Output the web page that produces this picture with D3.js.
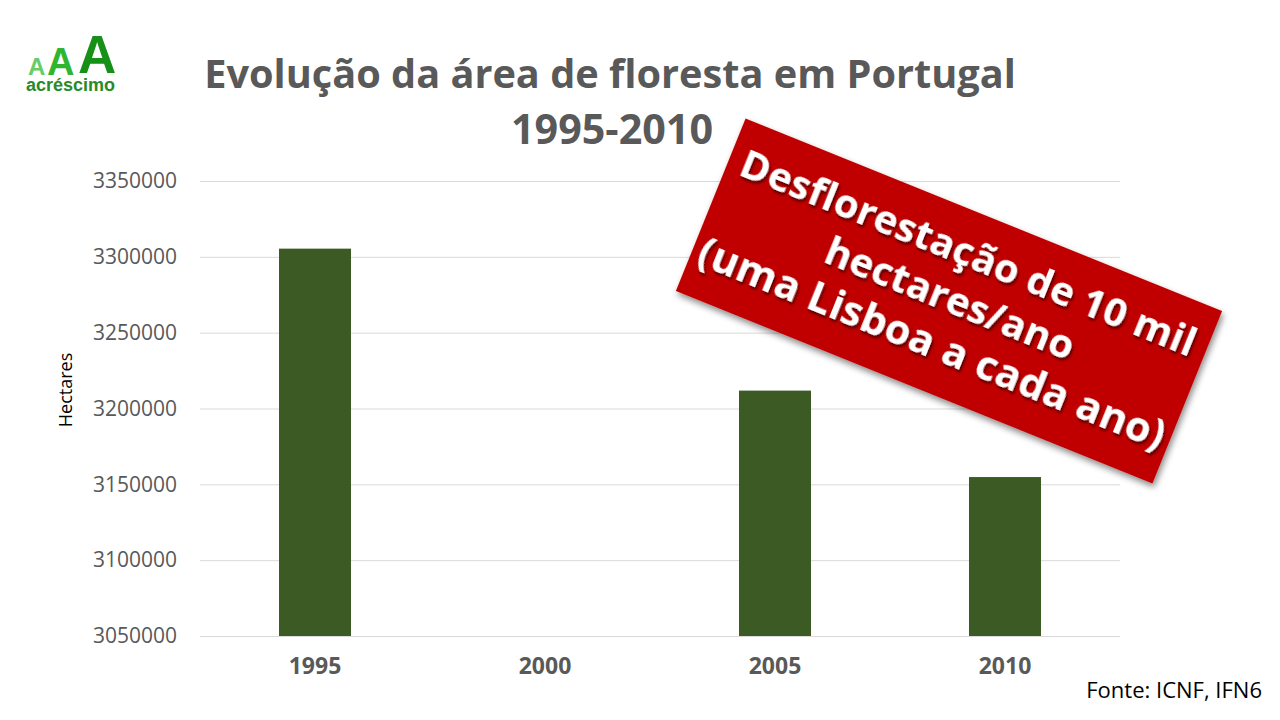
<!DOCTYPE html>
<html><head><meta charset="utf-8">
<script src="https://cdn.jsdelivr.net/npm/d3@7"></script>
<style>body{margin:0;background:#fff}svg{display:block}</style>
</head><body>
<svg id="c" width="1280" height="720"></svg>
<script>
const categories = ["1995", "2000", "2005", "2010"];
const values = [3305400, null, 3211800, 3154800];
const yTicks = [3050000, 3100000, 3150000, 3200000, 3250000, 3300000, 3350000];
const titleLines = ["Evolução da área de floresta em Portugal", "1995-2010"];
const bannerLines = ["Desflorestação de 10 mil", "hectares/ano", "(uma Lisboa a cada ano)"];
const yLabel = "Hectares";
const source = "Fonte: ICNF, IFN6";

const svg = d3.select("#c");
const FONT = "'Open Sans', sans-serif";
const m = {left: 200, right: 1120, top: 181, bottom: 636};

const x = d3.scaleBand().domain(categories).range([m.left, m.right]).paddingInner(0.687).paddingOuter(0.3435);
const y = d3.scaleLinear().domain([3050000, 3350000]).range([m.bottom, m.top]);

// gridlines
const gy = svg.append("g").attr("transform", `translate(${m.left},0)`)
  .call(d3.axisLeft(y).tickValues(yTicks).tickSize(-(m.right - m.left)).tickFormat(d3.format("d")).tickPadding(23));
gy.select(".domain").remove();
gy.selectAll(".tick line").attr("stroke", "#d9d9d9").attr("stroke-width", 1);
gy.selectAll(".tick text").attr("fill", "#595959").attr("font-family", FONT).attr("font-size", 21);

// bars
svg.append("g").selectAll("rect").data(categories.map((c, i) => ({c, v: values[i]})).filter(d => d.v != null))
  .join("rect")
  .attr("x", d => x(d.c)).attr("width", x.bandwidth())
  .attr("y", d => y(d.v)).attr("height", d => y(3050000) - y(d.v))
  .attr("fill", "#3b5a24");

// x axis
const gx = svg.append("g").attr("transform", `translate(0,${m.bottom})`)
  .call(d3.axisBottom(x).tickSize(0).tickPadding(22));
gx.select(".domain").remove();
gx.selectAll(".tick text").attr("fill", "#595959").attr("font-family", FONT)
  .attr("font-size", 23).attr("font-weight", "bold");

// y label
svg.append("text").attr("transform", "translate(72,390) rotate(-90)")
  .attr("text-anchor", "middle").attr("font-family", FONT).attr("font-size", 18)
  .attr("fill", "#000").text(yLabel);

// title
function fit(sel, target) {
  const w = sel.node().getComputedTextLength();
  const s = parseFloat(sel.attr("font-size"));
  return s * target / w;
}
const t1 = svg.append("text").attr("x", 610).attr("y", 88).attr("text-anchor", "middle")
  .attr("font-family", FONT).attr("font-weight", "bold").attr("font-size", 40)
  .attr("fill", "#595959").text(titleLines[0]);
const ts = fit(t1, 812);
t1.attr("font-size", ts);
svg.append("text").attr("x", 612).attr("y", 144).attr("text-anchor", "middle")
  .attr("font-family", FONT).attr("font-weight", "bold").attr("font-size", ts * 1.04)
  .attr("fill", "#595959").text(titleLines[1]);

// source
svg.append("text").attr("x", 1262).attr("y", 698).attr("text-anchor", "end")
  .attr("font-family", FONT).attr("font-size", 22).attr("fill", "#000").text(source);

// logo
const logo = svg.append("g").attr("font-family", "'Liberation Sans', Arial, sans-serif").attr("font-weight", "bold");
logo.append("text").attr("x", 28).attr("y", 75).attr("font-size", 24).attr("fill", "#66cc66").text("A");
logo.append("text").attr("x", 47).attr("y", 75).attr("font-size", 38).attr("fill", "#2fb52f").text("A");
logo.append("text").attr("x", 78).attr("y", 73).attr("font-size", 53).attr("fill", "#169016").text("A");
logo.append("text").attr("x", 26).attr("y", 91).attr("font-size", 18).attr("fill", "#2a8a2a").text("acréscimo");

// banner
const defs = svg.append("defs");
const f = defs.append("filter").attr("id", "sh").attr("x", "-20%").attr("y", "-20%").attr("width", "140%").attr("height", "140%");
f.append("feDropShadow").attr("dx", 3).attr("dy", 3).attr("stdDeviation", 3).attr("flood-color", "#000").attr("flood-opacity", 0.45);
const f2 = defs.append("filter").attr("id", "tsh").attr("x", "-10%").attr("y", "-30%").attr("width", "120%").attr("height", "160%");
f2.append("feDropShadow").attr("dx", 2).attr("dy", 2).attr("stdDeviation", 1.5).attr("flood-color", "#000").attr("flood-opacity", 0.6);

const B = svg.append("g").attr("transform", "translate(949,301) rotate(22)");
B.append("rect").attr("x", -257).attr("y", -93).attr("width", 514).attr("height", 186)
  .attr("fill", "#c00000").attr("filter", "url(#sh)");
const bt = B.append("g").attr("filter", "url(#tsh)").attr("fill", "#fff")
  .attr("font-family", FONT).attr("font-weight", "bold").attr("text-anchor", "middle");
const l1 = bt.append("text").attr("x", 0).attr("y", -38).attr("font-size", 40).text(bannerLines[0]);
const bs = fit(l1, 488);
l1.attr("font-size", bs);
bt.append("text").attr("x", 0).attr("y", 11).attr("font-size", bs).text(bannerLines[1]);
bt.append("text").attr("x", 0).attr("y", 60).attr("font-size", bs * 1.04).text(bannerLines[2]);
</script>
</body></html>
